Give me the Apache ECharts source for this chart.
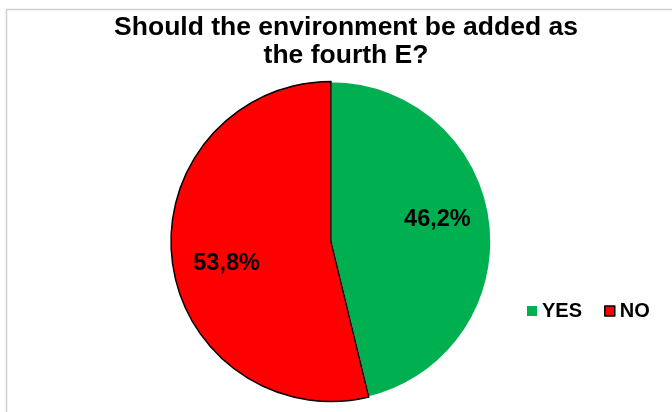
<!DOCTYPE html>
<html>
<head>
<meta charset="utf-8">
<script src="https://cdn.jsdelivr.net/npm/echarts@6/dist/echarts.min.js"></script>
<style>
  html, body { margin: 0; padding: 0; background: #ffffff; }
  #chart { width: 672px; height: 412px; }
</style>
</head>
<body>
<div id="chart"></div>
<script>
// Survey answers and their shares (percent)
const categories = ['YES', 'NO'];
const shares = [46.2, 53.8];
const sliceColors = ['#00B050', '#FF0000'];
const sliceBorders = ['#ffffff', '#000000'];
const titleLines = ['Should the environment be added as', 'the fourth E?'];

const chart = echarts.init(document.getElementById('chart'), null, { renderer: 'canvas' });

const FONT = '"Liberation Sans", Arial, sans-serif';

const pieData = categories.map((name, i) => ({
  name: name,
  value: shares[i],
  itemStyle: {
    color: sliceColors[i],
    borderColor: sliceBorders[i],
    borderWidth: 1.5
  }
}));

// legend swatches: green plain, red with a dark outline
const legendData = categories.map((name, i) => ({
  name: name,
  itemStyle: {
    color: sliceColors[i],
    borderColor: '#000000',
    borderWidth: i === 1 ? 1.5 : 0
  }
}));

chart.setOption({
  animation: false,
  backgroundColor: '#ffffff',
  legend: {
    data: legendData,
    orient: 'horizontal',
    left: 522,
    top: 296,
    icon: 'rect',
    itemWidth: 10,
    itemHeight: 10,
    itemGap: 22,
    textStyle: {
      fontFamily: FONT,
      fontWeight: 'bold',
      fontSize: 20,
      lineHeight: 20,
      color: '#000000'
    }
  },
  graphic: [{
    type: 'rect',
    silent: true,
    shape: { x: 6.5, y: 9.5, width: 800, height: 600 },
    style: { fill: 'none', stroke: '#d0d0d0', lineWidth: 1.5 }
  }, {
    type: 'text',
    silent: true,
    x: 346,
    y: 14,
    style: {
      text: titleLines.join('\n'),
      align: 'center',
      verticalAlign: 'top',
      fontFamily: FONT,
      fontWeight: 'bold',
      fontSize: 26.5,
      lineHeight: 28,
      fill: '#000000'
    }
  }],
  series: [{
    type: 'pie',
    center: [331, 241.5],
    radius: [0, 160],
    startAngle: 90,
    clockwise: true,
    avoidLabelOverlap: false,
    emphasis: { disabled: true },
    label: {
      show: true,
      position: 'inner',
      formatter: p => p.value.toFixed(1).replace('.', ',') + '%',
      fontFamily: FONT,
      fontWeight: 'bold',
      fontSize: 23.5,
      color: '#000000'
    },
    labelLayout: p => (p.dataIndex === 0 ? { dx: 24, dy: -12 } : { dx: -22, dy: 12 }),
    labelLine: { show: false },
    data: pieData
  }]
});
</script>
</body>
</html>
